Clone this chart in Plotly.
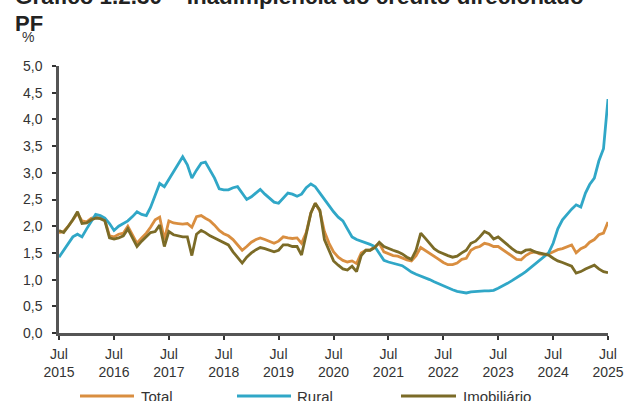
import plotly.graph_objects as go
import pandas as pd

months = pd.date_range("2015-07-01", "2025-07-01", freq="MS")

total = [1.88, 1.90, 2.00, 2.12, 2.24, 2.10, 2.08, 2.15, 2.17, 2.15, 2.12, 1.82,
         1.80, 1.85, 1.87, 2.00, 1.85, 1.68, 1.78, 1.87, 1.98, 2.12, 2.17, 1.75,
         2.10, 2.06, 2.05, 2.04, 2.05, 1.98, 2.18, 2.20, 2.15, 2.10, 2.02, 1.92,
         1.86, 1.82, 1.75, 1.65, 1.55, 1.62, 1.70, 1.75, 1.78, 1.75, 1.72, 1.68,
         1.72, 1.80, 1.78, 1.77, 1.78, 1.68, 1.88, 2.25, 2.43, 2.28, 1.90, 1.68,
         1.52, 1.42, 1.36, 1.33, 1.35, 1.30, 1.50, 1.55, 1.55, 1.62, 1.68, 1.52,
         1.48, 1.45, 1.44, 1.40, 1.37, 1.35, 1.45, 1.60, 1.55, 1.50, 1.45, 1.38,
         1.32, 1.28, 1.28, 1.31, 1.38, 1.40, 1.55, 1.60, 1.62, 1.68, 1.66, 1.62,
         1.62, 1.56, 1.50, 1.45, 1.38, 1.37, 1.45, 1.50, 1.52, 1.48, 1.47, 1.48,
         1.52, 1.56, 1.58, 1.62, 1.65, 1.50, 1.58, 1.62, 1.70, 1.75, 1.84, 1.87,
         2.08]

rural = [1.42, 1.55, 1.68, 1.80, 1.85, 1.80, 1.95, 2.08, 2.22, 2.20, 2.15, 2.05,
         1.92, 2.00, 2.05, 2.10, 2.18, 2.27, 2.22, 2.20, 2.35, 2.60, 2.80, 2.74,
         2.88, 3.00, 3.15, 3.30, 3.15, 2.90, 3.05, 3.18, 3.20, 3.05, 2.90, 2.70,
         2.68, 2.68, 2.72, 2.74, 2.62, 2.50, 2.55, 2.62, 2.69, 2.60, 2.52, 2.45,
         2.43, 2.52, 2.62, 2.60, 2.56, 2.60, 2.72, 2.79, 2.74, 2.62, 2.50, 2.38,
         2.27, 2.17, 2.10, 1.95, 1.80, 1.75, 1.72, 1.70, 1.66, 1.62, 1.48, 1.36,
         1.33, 1.31, 1.29, 1.26, 1.20, 1.14, 1.10, 1.07, 1.04, 1.00, 0.96, 0.92,
         0.89, 0.85, 0.81, 0.78, 0.76, 0.75, 0.77, 0.78, 0.78, 0.79, 0.79, 0.80,
         0.84, 0.88, 0.93, 0.98, 1.03, 1.09, 1.15, 1.22, 1.30, 1.37, 1.44, 1.50,
         1.68, 1.95, 2.12, 2.22, 2.32, 2.40, 2.36, 2.62, 2.78, 2.90, 3.22, 3.45,
         4.38]

imobiliario = [1.92, 1.88, 2.00, 2.12, 2.27, 2.05, 2.06, 2.12, 2.15, 2.14, 2.10, 1.78,
               1.76, 1.78, 1.82, 1.95, 1.78, 1.62, 1.72, 1.80, 1.88, 1.90, 2.02, 1.62,
               1.90, 1.84, 1.82, 1.80, 1.80, 1.45, 1.85, 1.92, 1.88, 1.82, 1.78, 1.74,
               1.70, 1.65, 1.52, 1.42, 1.31, 1.42, 1.50, 1.56, 1.60, 1.58, 1.55, 1.52,
               1.55, 1.65, 1.65, 1.62, 1.62, 1.46, 1.85, 2.25, 2.43, 2.30, 1.75, 1.55,
               1.35, 1.27, 1.20, 1.18, 1.25, 1.15, 1.45, 1.55, 1.55, 1.60, 1.70, 1.62,
               1.58, 1.55, 1.52, 1.48, 1.42, 1.38, 1.55, 1.87, 1.78, 1.68, 1.58, 1.52,
               1.48, 1.45, 1.42, 1.44, 1.50, 1.55, 1.68, 1.72, 1.80, 1.90, 1.86, 1.76,
               1.80, 1.72, 1.65, 1.58, 1.52, 1.50, 1.55, 1.56, 1.52, 1.50, 1.48, 1.46,
               1.40, 1.35, 1.32, 1.28, 1.25, 1.12, 1.15, 1.20, 1.24, 1.27, 1.20, 1.15,
               1.13]

tick_vals = ["2015-07-01", "2016-07-01", "2017-07-01", "2018-07-01", "2019-07-01",
             "2020-07-01", "2021-07-01", "2022-07-01", "2023-07-01", "2024-07-01",
             "2025-07-01"]
tick_text = ["Jul<br>2015", "Jul<br>2016", "Jul<br>2017", "Jul<br>2018", "Jul<br>2019",
             "Jul<br>2020", "Jul<br>2021", "Jul<br>2022", "Jul<br>2023", "Jul<br>2024",
             "Jul<br>2025"]
y_ticks = [0, 0.5, 1, 1.5, 2, 2.5, 3, 3.5, 4, 4.5, 5]

series_names = ["Total", "Rural", "Imobiliário"]
colors = ["#D98E40", "#30A7C7", "#7B6B27"]

FONT = "Liberation Sans, Arial, sans-serif"
W, H = 639, 401
L, R, T, B = 59, 31, 66, 68

fig = go.Figure()
for name, vals, col in zip(series_names, [total, rural, imobiliario], colors):
    fig.add_trace(go.Scatter(x=months, y=vals, mode="lines", name=name,
                             line=dict(color=col, width=2.8), showlegend=False))

fig.update_layout(
    width=W, height=H,
    margin=dict(l=L, r=R, t=T, b=B),
    paper_bgcolor="white", plot_bgcolor="white",
    separators=",.",
    font=dict(family=FONT, size=14, color="#333333"),
    xaxis=dict(range=["2015-07-01", "2025-07-01"], tickvals=tick_vals, ticktext=tick_text,
               showgrid=False, zeroline=False, showline=True, linecolor="#555555", linewidth=2.5,
               ticks="outside", ticklen=4, tickwidth=2, tickcolor="#333333",
               ticklabelstandoff=2,
               tickfont=dict(size=14, color="#333333")),
    yaxis=dict(range=[0, 5], tickvals=y_ticks, tickformat=".1f",
               showgrid=False, zeroline=False, showline=True, linecolor="#555555", linewidth=2.5,
               ticks="outside", ticklen=4, tickwidth=2, tickcolor="#333333",
               ticklabelstandoff=7,
               tickfont=dict(size=14, color="#333333")),
)

ph = H - T - B
pw = W - L - R
def py(p):
    return (H - B - p) / ph
def px(p):
    return (p - L) / pw

fig.add_annotation(text="<b>Gráfico 1.2.30 – Inadimplência do crédito direcionado</b>",
                   xref="paper", yref="paper", x=px(13), y=py(-4), xanchor="left", yanchor="middle",
                   showarrow=False, font=dict(size=22.4, color="#222222", family=FONT))
fig.add_annotation(text="<b>PF</b>", xref="paper", yref="paper", x=px(13), y=py(23),
                   xanchor="left", yanchor="middle", showarrow=False,
                   font=dict(size=22, color="#222222", family=FONT))
fig.add_annotation(text="%", xref="paper", yref="paper", x=px(20), y=py(37),
                   xanchor="left", yanchor="middle", showarrow=False,
                   font=dict(size=14, color="#333333", family=FONT))

leg = [(80, 134, 139), (237, 291, 295), (401, 456, 461)]
ly = py(396)
for (x0, x1, xt), name, col in zip(leg, series_names, colors):
    fig.add_shape(type="line", xref="paper", yref="paper", x0=px(x0), x1=px(x1), y0=ly, y1=ly,
                  line=dict(color=col, width=2.8))
    fig.add_annotation(text=name, xref="paper", yref="paper", x=px(xt), y=ly,
                       xanchor="left", yanchor="middle", showarrow=False,
                       font=dict(size=15, color="#333333", family=FONT))

fig.write_html("out.html", config={"displayModeBar": False},
               post_script="document.body.style.margin='0';document.body.style.overflow='hidden';")
